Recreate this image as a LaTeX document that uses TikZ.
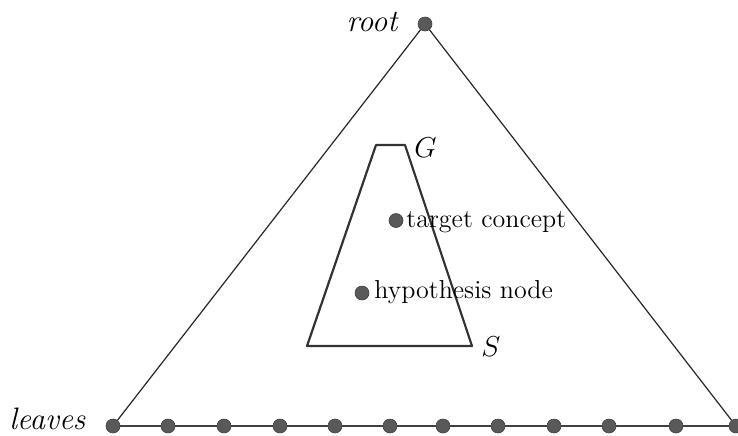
\documentclass[tikz,border=0pt]{standalone}
\usepackage{tikz}
\usetikzlibrary{positioning, calc}

\begin{document}
\begin{tikzpicture}[
    x=0.5pt, y=-0.5pt,
    dot/.style={circle, fill=black!65, draw=black!75, line width=0.3pt, inner sep=0pt, minimum size=7pt},
    lbl/.style={inner sep=0pt, font=\fontsize{13}{15}\selectfont},
    big/.style={inner sep=0pt, font=\fontsize{15.5}{18}\selectfont},
    edge/.style={draw=black!85, line width=0.6pt},
    chain/.style={draw=black!75, line width=1pt},
    bound/.style={draw=black!80, line width=1.1pt, line join=round}
]
  \useasboundingbox (0,0) rectangle (738,435);

  % Root and leaves
  \node[dot] (root) at (425, 24) {};
  \foreach \x [count=\i] in {113,168,224,280,335,390,443,498,554,609,676,736}
    \node[dot] (l\i) at (\x, 426) {};

  \draw[edge] (root) -- (l1);
  \draw[edge] (root) -- (l12);
  \foreach \i [evaluate=\i as \j using int(\i+1)] in {1,...,11}
    \draw[chain] (l\i) -- (l\j);

  % Version space between G and S
  \coordinate (gl) at (376, 145);
  \coordinate (gr) at (405, 145);
  \coordinate (sr) at (472, 346);
  \coordinate (sl) at (307, 346);
  \draw[bound] (gl) -- (gr) -- (sr) -- (sl) -- cycle;

  \node[dot] (tc) at (396, 220.5) {};
  \node[dot] (hn) at (362, 293) {};

  % Labels
  \node[big, anchor=east] (rootlbl) at (399, 22) {\textit{root}};
  \node[big, anchor=base west] (leaflbl) at (9, 429) {\textit{leaves}};
  \node[big, anchor=west] (glbl) at (414, 148) {$G$};
  \node[big, anchor=west] (slbl) at (481, 347) {$S$};
  \node[lbl, anchor=base west] (tclbl) at (406, 227) {target concept};
  \node[lbl, anchor=base west] (hnlbl) at (374, 298.5) {hypothesis node};
\end{tikzpicture}
\end{document}
